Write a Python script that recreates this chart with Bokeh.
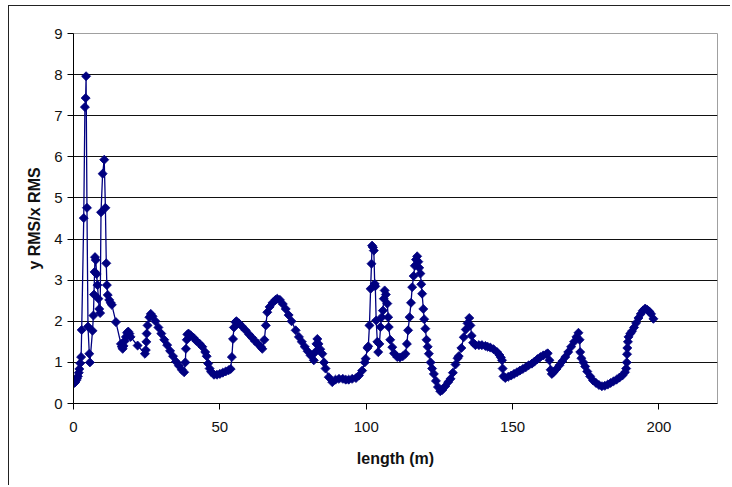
import numpy as np
from bokeh.plotting import figure
from bokeh.models import Range1d, FixedTicker
from bokeh.embed import file_html
from bokeh.resources import INLINE

# ---- data ----
length_m = [
    0.0, 0.3, 0.6, 0.9, 1.2, 1.5, 1.8, 2.0, 2.3, 2.6, 2.8, 3.5, 3.9, 4.15, 4.3, 4.6, 4.95, 5.4, 5.6,
    6.5, 6.8, 7.0, 7.2, 7.35, 7.6, 7.9, 8.2, 8.5, 8.8, 9.1, 9.4, 9.95, 10.5, 10.9, 11.2, 11.4, 11.7, 12.2, 12.7, 13.1,
    14.5, 16.2, 16.5, 16.8, 17.1, 17.5, 17.9, 18.3, 18.7, 19.1, 19.5, 21.9, 24.4, 24.7, 24.9, 25.0, 25.3, 25.9, 26.4,
    27, 28, 29, 30, 31, 32, 33, 34, 35, 36, 37, 37.8, 38.2, 38.4, 38.7, 38.9, 39.3, 40, 41, 42, 43, 44, 45, 45.5, 46, 46.5, 47, 48, 49, 50, 51, 52, 53, 53.7,
    54.1, 54.5, 54.8, 55.3, 55.7, 56.5, 57.5, 58.8, 60, 61, 62, 63, 64, 64.5, 65.2, 65.7, 66.2, 67, 68, 69, 69.6, 70.5, 71.5, 72.5, 73.5, 74.5, 75.9, 77, 78, 79, 80, 81, 82.1,
    82.6, 83.0, 83.3, 83.7, 84.3, 85.0, 85.6, 86.1, 87.2, 88.4, 89.5, 90.7, 92, 93, 94, 95.2, 96.5, 97.5, 98.6, 99.5, 99.8, 100.4, 100.7, 101.1, 101.5, 101.8, 102.0, 102.3, 102.6, 102.9,
    103.1, 103.4, 103.8, 104.1, 104.5, 104.9, 105.3, 105.7, 106.0, 106.3, 106.7, 107.2, 107.5, 107.7, 108.2, 108.9, 109.5, 110.6, 111.5, 112.5, 113.4, 113.9, 114.3, 114.8, 115.3, 115.7, 116.2, 116.6, 117.0, 117.4,
    117.8, 118.1, 118.5, 118.8, 119.1, 119.5, 119.8, 120.2, 120.6, 121.0, 121.4, 122.0, 122.5, 123.1, 123.8, 124.5, 125.3, 126.0, 127.0, 128.0, 128.8, 129.6, 130.5, 131.2, 131.6, 132.5, 133.3, 134.0, 134.6, 135.2,
    135.6, 136.0, 136.5, 137.3, 138.5, 139.5, 140.7, 141.5, 142.4, 143.5, 144.7, 145.5, 146.0, 146.4, 146.6, 146.9, 147.5, 148.5, 149.5, 150.5, 151.5, 152.5, 153.5, 154.5, 155.5, 156.6, 157.5, 158.5, 159.5, 160.5, 161.5, 162.0,
    162.6, 163.0, 163.4, 164.0, 165.0, 166.0, 167.0, 168.0, 169.0, 170.0, 171.0, 171.8, 172.5, 172.9, 173.1, 173.5, 174.2, 174.8, 175.5, 176.5, 177.5, 178.5, 179.5, 180.5, 181.5, 182.5, 183.5, 184.5, 185.5, 186.5,
    187.5, 188.4, 188.8, 189.0, 189.1, 189.2, 189.4, 189.6, 190.2, 190.8, 191.5, 192.2, 193.0, 193.8, 194.5, 195.3, 196.0, 196.7, 197.3, 198.1,
]
rms_ratio = [
    0.55, 0.50, 0.52, 0.56, 0.60, 0.66, 0.75, 0.84, 0.98, 1.13, 1.79, 4.51, 7.21, 7.43, 7.96, 4.76, 1.87, 1.21, 1.00,
    1.77, 2.14, 2.65, 3.20, 3.56, 3.49, 3.15, 2.88, 2.55, 2.30, 2.20, 4.65, 5.59, 5.93, 4.76, 3.41, 2.88, 2.64, 2.52, 2.45, 2.40,
    1.98, 1.45, 1.38, 1.33, 1.40, 1.52, 1.62, 1.72, 1.75, 1.70, 1.62, 1.41, 1.21, 1.30, 1.50, 1.70, 1.90, 2.10, 2.18,
    2.12, 2.00, 1.85, 1.70, 1.55, 1.42, 1.28, 1.15, 1.02, 0.92, 0.82, 0.76, 1.00, 1.33, 1.55, 1.68, 1.70, 1.66, 1.60, 1.52, 1.46, 1.38, 1.25, 1.15, 0.97, 0.85, 0.77, 0.70, 0.70, 0.72, 0.75, 0.78, 0.81, 0.84,
    1.13, 1.57, 1.85, 1.98, 2.00, 1.95, 1.88, 1.78, 1.68, 1.60, 1.52, 1.45, 1.38, 1.33, 1.55, 1.90, 2.22, 2.35, 2.45, 2.52, 2.55, 2.52, 2.42, 2.30, 2.15, 2.00, 1.78, 1.62, 1.50, 1.38, 1.27, 1.17, 1.05,
    1.25, 1.45, 1.57, 1.45, 1.32, 1.21, 1.00, 0.85, 0.64, 0.52, 0.58, 0.60, 0.60, 0.58, 0.58, 0.60, 0.62, 0.68, 0.80, 1.00, 1.09, 1.35, 1.39, 1.90, 2.79, 3.40, 3.84, 3.80, 3.72, 2.91,
    2.85, 2.02, 1.50, 1.25, 1.45, 1.86, 2.10, 2.26, 2.55, 2.75, 2.65, 2.43, 2.10, 1.86, 1.55, 1.37, 1.22, 1.13, 1.12, 1.15, 1.21, 1.45, 1.78, 2.10, 2.45, 2.83, 3.10, 3.35, 3.50, 3.58,
    3.45, 3.30, 3.16, 2.90, 2.67, 2.30, 2.05, 1.82, 1.55, 1.38, 1.21, 1.00, 0.85, 0.72, 0.55, 0.40, 0.30, 0.33, 0.42, 0.52, 0.60, 0.75, 0.95, 1.10, 1.15, 1.35, 1.61, 1.80, 1.95, 2.08,
    1.90, 1.65, 1.48, 1.42, 1.42, 1.42, 1.40, 1.38, 1.36, 1.32, 1.25, 1.18, 1.12, 1.05, 0.85, 0.66, 0.62, 0.65, 0.68, 0.72, 0.76, 0.80, 0.84, 0.88, 0.93, 0.97, 1.02, 1.08, 1.13, 1.17, 1.20, 1.22,
    1.05, 0.82, 0.72, 0.76, 0.84, 0.93, 1.03, 1.13, 1.25, 1.38, 1.50, 1.62, 1.72, 1.55, 1.25, 1.10, 1.00, 0.90, 0.78, 0.66, 0.56, 0.50, 0.45, 0.42, 0.43, 0.46, 0.50, 0.54, 0.58, 0.63,
    0.68, 0.76, 0.85, 1.00, 1.20, 1.35, 1.50, 1.62, 1.70, 1.76, 1.85, 1.96, 2.08, 2.18, 2.26, 2.31, 2.28, 2.24, 2.18, 2.06,
]
x_ticks = [0, 50, 100, 150, 200]
y_ticks = [0, 1, 2, 3, 4, 5, 6, 7, 8, 9]
x_label = "length (m)"
y_label = "y RMS/x RMS"

assert len(length_m) == len(rms_ratio)

FONT = "Liberation Sans"
NAVY = "#000080"

p = figure(width=722, height=480,
           x_range=Range1d(0, 220), y_range=Range1d(0, 9),
           output_backend="svg", toolbar_location=None,
           min_border_left=64, min_border_right=14,
           min_border_top=27, min_border_bottom=83,
           background_fill_color="white", border_fill_color="white")

p.styles = {"margin-left": "8px", "margin-top": "5px",
            "border-left": "1px solid #222222", "border-top": "1px solid #222222"}

p.outline_line_color = "#a0a0a0"
p.outline_line_width = 1

p.xgrid.visible = False
p.ygrid.grid_line_color = "#111111"
p.ygrid.grid_line_width = 1

p.xaxis.ticker = FixedTicker(ticks=x_ticks)
p.yaxis.ticker = FixedTicker(ticks=y_ticks)

for ax in (p.xaxis[0], p.yaxis[0]):
    ax.axis_line_color = "black"
    ax.axis_line_width = 1
    ax.major_tick_line_color = "black"
    ax.major_tick_in = 0
    ax.major_tick_out = 6
    ax.minor_tick_line_color = None
    ax.major_label_text_font = FONT
    ax.major_label_text_font_size = "15px"
    ax.major_label_text_color = "#111111"
    ax.axis_label_text_font = FONT
    ax.axis_label_text_font_size = "16px"
    ax.axis_label_text_font_style = "bold"
    ax.axis_label_text_color = "#111111"

p.xaxis.axis_label = x_label
p.yaxis.axis_label = y_label
p.xaxis.major_label_standoff = 12
p.yaxis.major_label_standoff = 5
p.xaxis.axis_label_standoff = 15
p.yaxis.axis_label_standoff = 8

p.line(length_m, rms_ratio, line_color=NAVY, line_width=1.3)
p.scatter(length_m, rms_ratio, marker="square", angle=np.pi / 4, size=6.4,
          fill_color=NAVY, line_color=NAVY, line_width=0.8)

open("out.html", "w").write(file_html(p, INLINE))
